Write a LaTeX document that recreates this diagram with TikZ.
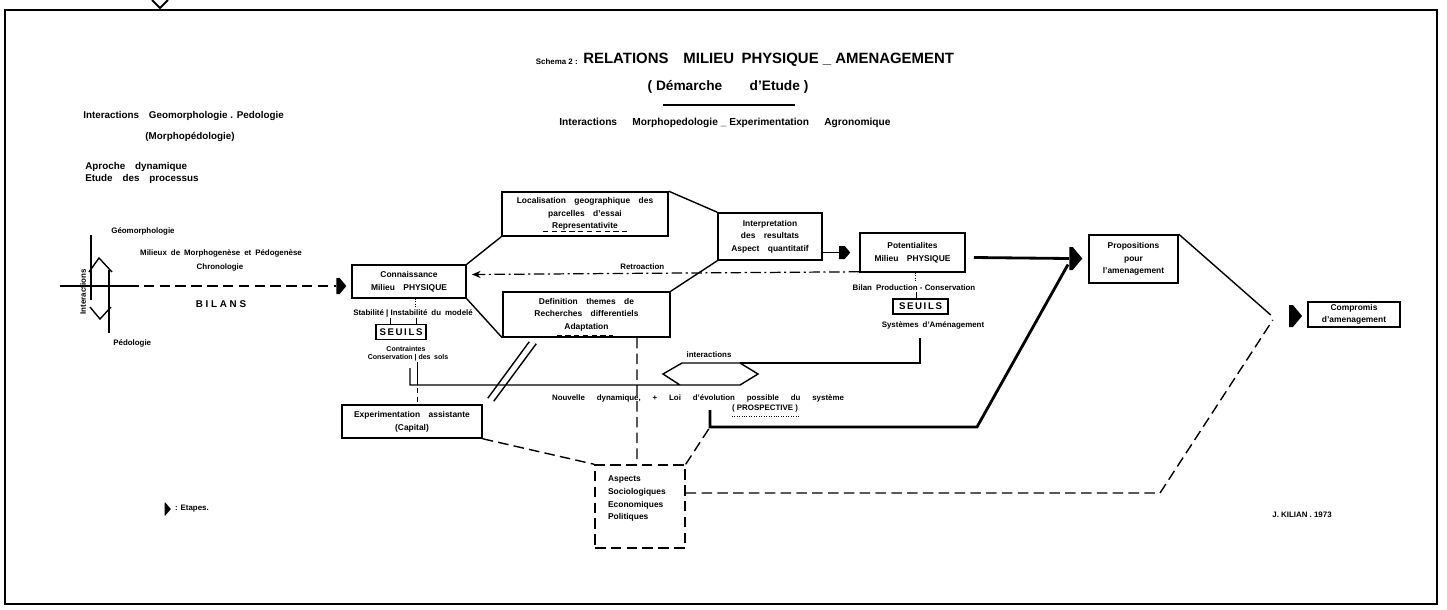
\documentclass[tikz,border=0pt]{standalone}
\usepackage{fontspec}
\setsansfont{Liberation Sans}
\usepackage{tikz}
\usetikzlibrary{shapes.arrows, arrows.meta, positioning, calc}

\begin{document}
\begin{tikzpicture}[x=0.02cm, y=-0.02cm,
    every node/.style={inner sep=0pt, font=\sffamily\bfseries},
    petit/.style={font=\sffamily\bfseries\fontsize{4.5}{5.5}\selectfont, align=center},
    moyen/.style={font=\sffamily\bfseries\fontsize{5.6}{7.2}\selectfont, align=center},
    boite/.style={draw, line width=0.9pt, align=center, font=\sffamily\bfseries\fontsize{4.8}{7.2}\selectfont},
    seuil/.style={draw, line width=0.9pt, font=\sffamily\bfseries\fontsize{5.5}{6}\selectfont},
    etape/.style={single arrow, fill=black, single arrow head extend=0pt, single arrow tip angle=100},
    trait/.style={line width=0.8pt},
    gras/.style={line width=1.6pt},
    tirets/.style={line width=0.8pt, dash pattern=on 6pt off 3pt},
  ]
  \useasboundingbox (0,0) rectangle (1447,609);
  \draw[line width=1.2pt] (5,10) rectangle (1437,604);
  \draw[line width=1.2pt] (152,0) -- (160,8) -- (168,0);

  \node[petit, anchor=east] (num) at (578,62) {Schema 2 :};
  \node[font=\sffamily\bfseries\fontsize{8.5}{9}\selectfont, anchor=west] (titre) at (583,60) {RELATIONS\quad MILIEU\enspace PHYSIQUE \_ AMENAGEMENT};
  \node[font=\sffamily\bfseries\fontsize{7.8}{8}\selectfont] (demarche) at (728,87) {( Démarche\qquad d'Etude )};
  \draw[trait] ($(demarche.south)+(-65,11)$) -- ++(132,0);
  \node[font=\sffamily\bfseries\fontsize{5.8}{7}\selectfont] (sous) at (725,123) {Interactions\quad\enspace Morphopedologie \_ Experimentation\quad\enspace Agronomique};

  \node[moyen, anchor=west] (geoped) at (83,116) {Interactions\quad Geomorphologie . Pedologie};
  \node[moyen] (morpho) at (190,137) {(Morphopédologie)};
  \node[moyen, anchor=west, align=left] (approche) at (85,173) {Aproche\quad dynamique\\Etude\quad des\quad processus};

  \node[petit, anchor=west] (geom) at (111,231) {Géomorphologie};
  \node[petit, anchor=west] (pedo) at (113,343) {Pédologie};
  \node[petit, rotate=90] (inter1) at (83,292) {Interactions};
  \node[petit] (milieux) at (221,253) {Milieux\enspace de\enspace Morphogenèse\enspace et\enspace Pédogenèse};
  \node[petit] (chrono) at (220,267) {Chronologie};
  \node[moyen] (bilans) at (221,304) {B I L A N S};
  \draw[trait] (91,235) -- (91,300);
  \draw[trait] (109,270) -- (109,333);
  \draw[trait] (89,272) -- (99,258) -- (112,272);
  \draw[trait] (90,307) -- (100,319) -- (111,307);

  \node[etape, minimum height=0.2cm, minimum width=0.32cm] (e1) at (338,286) {};
  \coordinate (depart) at (60,286);
  \draw[trait] (depart) -- (128,286);
  \draw[tirets] (128,286) -- (e1.west);

  \node[boite, minimum width=2.28cm, minimum height=0.66cm] (conn) at (409,281.5) {Connaissance\\Milieu\quad PHYSIQUE};
  \node[boite, minimum width=3.32cm, minimum height=0.88cm] (loca) at (585,214) {Localisation\quad geographique\quad des\\parcelles\quad d'essai\\Representativite};
  \node[boite, minimum width=3.34cm, minimum height=0.9cm] (defi) at (586.5,314.5) {Definition\quad themes\quad de\\Recherches\quad differentiels\\Adaptation};
  \node[boite, minimum width=2.08cm, minimum height=0.94cm] (interp) at (770,236.5) {Interpretation\\des\quad resultats\\Aspect\quad quantitatif};
  \node[boite, minimum width=2.1cm, minimum height=0.78cm] (poten) at (912.5,252.5) {Potentialites\\Milieu\quad PHYSIQUE};
  \node[boite, minimum width=1.78cm, minimum height=0.96cm] (propo) at (1133.5,259) {Propositions\\pour\\l'amenagement};
  \node[boite, minimum width=1.84cm, minimum height=0.5cm] (compro) at (1354,314.5) {Compromis\\d'amenagement};
  \node[boite, minimum width=2.8cm, minimum height=0.66cm] (expe) at (412,421.5) {Experimentation\quad assistante\\(Capital)};
  \node[boite, tirets, minimum width=1.8cm, minimum height=1.66cm] (aspects) at (640,506.5) {};
  \node[boite, draw=none, align=left, anchor=north west] (aspectsT) at ($(aspects.north west)+(13,11)$) {Aspects\\Sociologiques\\Economiques\\Politiques};
  \draw[densely dashed, thin] ($(loca.south)+(-42,-5)$) -- ++(84,0);
  \draw[densely dashed, thin] ($(defi.south)+(-30,-2)$) -- ++(56,0);

  \draw[trait] (conn.north east) -- (loca.south west);
  \draw[trait] (conn.south east) -- (defi.south west);
  \draw[trait] (loca.north east) -- (interp.north west);
  \draw[trait] (defi.north east) -- (interp.south west);

  \node[petit] (stab) at (413,313) {Stabilité | Instabilité\enspace du\enspace modelé};
  \draw[densely dotted, thin] ($(conn.south)+(6,0)$) -- ++(0,9);
  \node[seuil, minimum width=1.0cm, minimum height=0.3cm] (seuilA) at (401,332) {S\,E\,U\,I\,L\,S};
  \draw[thin] ($(seuilA.north)+(-11,0)$) -- ++(0,-6);
  \draw[thin] ($(seuilA.north)+(15,0)$) -- ++(0,-6);
  \node[petit, font=\sffamily\bfseries\fontsize{4}{5}\selectfont] (contr) at (406,349) {Contraintes};
  \node[petit, font=\sffamily\bfseries\fontsize{4}{5}\selectfont] (conserv) at (408,358) {Conservation | des\enspace sols};

  \draw[trait] (410,368) |- (740,385) -- (758,374) -- (740,363) -- (682,363) -- (663,374) -- (680,385);
  \draw[trait] (740,363) -- (920,363) -- (920,338);
  \draw[thin] (417,362) -- (417,385);
  \draw[densely dashed, thin] (417,388) -- (expe.north -| 417,0);
  \node[petit] (interac) at (709,355) {interactions};

  \draw[trait] ($(expe.north east)+(5,-6)$) -- ($(defi.south west)+(27,4)$);
  \draw[trait] ($(expe.north east)+(11,-3)$) -- ($(defi.south west)+(34,6)$);

  \node[etape, minimum height=0.22cm, minimum width=0.26cm] (e2) at (842,252.5) {};
  \draw[trait] (e2.west -| interp.east) -- (e2.west);
  \draw[line width=0.7pt, dash pattern=on 6pt off 2pt on 1.2pt off 2pt, -{Stealth[length=5pt, width=4pt]}] ($(poten.south west)+(0,-1)$) -- node[petit, pos=0.56, above=2pt] (retro) {Retroaction} ($(conn.east)+(5,-7)$);

  \draw[densely dotted, thin] ($(poten.south)+(3,0)$) -- ++(0,8);
  \node[petit] (bilan) at (914,288) {Bilan\enspace Production - Conservation};
  \node[seuil, minimum width=1.1cm, minimum height=0.3cm] (seuilB) at (920.5,306.5) {S\,E\,U\,I\,L\,S};
  \draw[thin] ($(seuilB.north)+(-4,0)$) -- ++(0,-6);
  \node[petit] (syst) at (933,325) {Systèmes\enspace d'Aménagement};

  \node[petit] (nouv) at (698,398) {Nouvelle\quad\enspace dynamique,\quad\enspace +\quad\enspace Loi\quad\enspace d'évolution\quad\enspace possible\quad\enspace du\quad\enspace système};
  \node[petit] (prosp) at (765,408) {( PROSPECTIVE )};
  \draw[densely dotted, thin] ($(prosp.south west)+(0,4)$) -- ($(prosp.south east)+(0,4)$);

  \node[etape, minimum height=0.26cm, minimum width=0.46cm] (e3) at (1071,258.5) {};
  \node[etape, minimum height=0.26cm, minimum width=0.44cm] (e4) at (1291,316) {};
  \coordinate (coin) at (710,427);
  \draw[gras] ($(poten.east)+(8,5)$) -- (e3.west);
  \draw[gras] (710,410) -- (coin) -- (977,427) -- ($(e3.center)+(-3,6)$);
  \draw[trait] (propo.north east) -- ($(e4.west)+(-18,-1)$);

  \draw[tirets] (expe.south east) -- (aspects.north west);
  \draw[tirets] ($(defi.south)+(50.5,0)$) -- ($(aspects.north)+(-3,0)$);
  \draw[tirets] (aspects.north east) -- (coin);
  \draw[tirets] ($(aspects.east)+(0,-13.5)$) -- (1160,493) -- ($(e4.west)+(-16,4)$);

  \node[etape, minimum height=0.12cm, minimum width=0.26cm] (e0) at (165,509) {};
  \node[petit, right=2pt of e0] (legende) {: Etapes.};
  \node[petit, anchor=west] (auteur) at (1272,515) {J. KILIAN . 1973};
\end{tikzpicture}
\end{document}
